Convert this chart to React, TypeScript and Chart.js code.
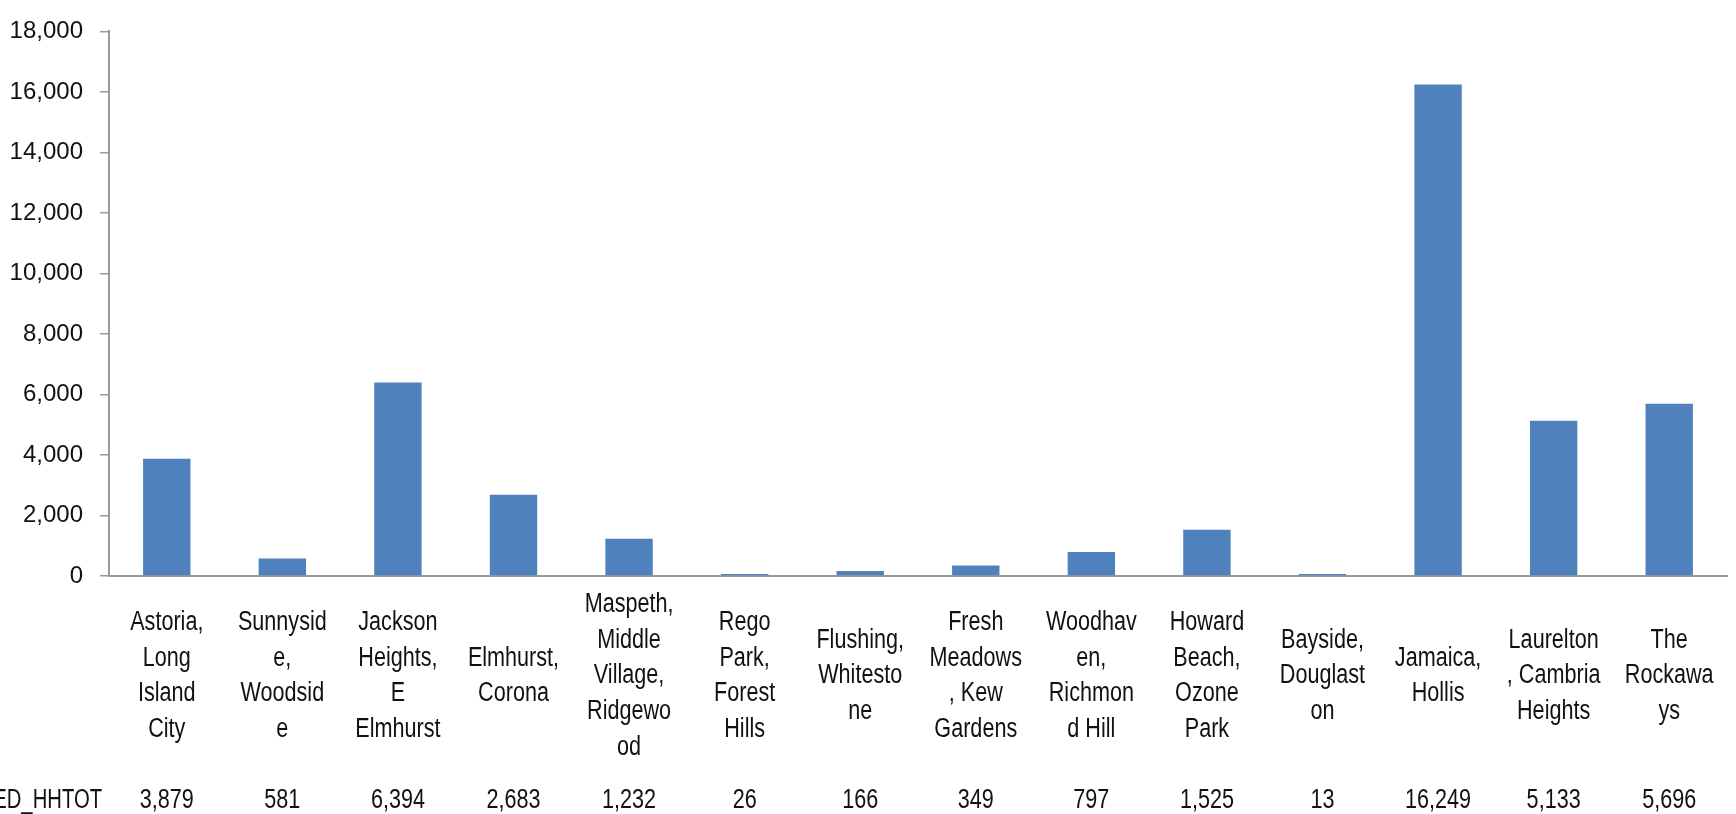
import React, { useEffect, useRef } from 'react';
import { Chart, registerables } from 'chart.js';

Chart.register(...registerables);

// Category labels, wrapped as in the reference
const categories: string[][] = [
  ['Astoria,', 'Long', 'Island', 'City'],
  ['Sunnysid', 'e,', 'Woodsid', 'e'],
  ['Jackson', 'Heights,', 'E', 'Elmhurst'],
  ['Elmhurst,', 'Corona'],
  ['Maspeth,', 'Middle', 'Village,', 'Ridgewo', 'od'],
  ['Rego', 'Park,', 'Forest', 'Hills'],
  ['Flushing,', 'Whitesto', 'ne'],
  ['Fresh', 'Meadows', ', Kew', 'Gardens'],
  ['Woodhav', 'en,', 'Richmon', 'd Hill'],
  ['Howard', 'Beach,', 'Ozone', 'Park'],
  ['Bayside,', 'Douglast', 'on'],
  ['Jamaica,', 'Hollis'],
  ['Laurelton', ', Cambria', 'Heights'],
  ['The', 'Rockawa', 'ys'],
];

const seriesName = 'ED_HHTOT';
const values: number[] = [3879, 581, 6394, 2683, 1232, 26, 166, 349, 797, 1525, 13, 16249, 5133, 5696];

const yMin = 0;
const yMax = 18000;
const yStep = 2000;

const FONT_FAMILY = "'Liberation Sans', Arial, sans-serif";
const TEXT_COLOR = '#111111';
const AXIS_COLOR = '#9a9a9a';
const BAR_COLOR = '#4F81BD';
const SQUEEZE = 0.8;

const fmt = (v: number) => v.toLocaleString('en-US');

const drawNarrow = (ctx: CanvasRenderingContext2D, text: string, x: number, y: number, k = SQUEEZE) => {
  ctx.save();
  ctx.translate(x, y);
  ctx.scale(k, 1);
  ctx.fillText(text, 0, 0);
  ctx.restore();
};

const tablePlugin = {
  id: 'categoryTable',
  afterDraw(chart: any) {
    const ctx = chart.ctx as CanvasRenderingContext2D;
    const xs = chart.scales.x;
    const top = xs.top;
    const lineH = 35.7;
    ctx.save();
    ctx.fillStyle = TEXT_COLOR;
    ctx.font = `27px ${FONT_FAMILY}`;
    ctx.textAlign = 'center';
    ctx.textBaseline = 'middle';
    const labelCenter = top + 100;
    const rowY = top + 225;
    categories.forEach((lines, i) => {
      const x = xs.getPixelForValue(i);
      const n = lines.length;
      lines.forEach((ln, j) => {
        drawNarrow(ctx, ln, x, labelCenter + (j - (n - 1) / 2) * lineH);
      });
      drawNarrow(ctx, fmt(values[i]), x, rowY);
    });
    ctx.textAlign = 'right';
    drawNarrow(ctx, seriesName, chart.chartArea.left - 7, rowY, 0.75);
    ctx.restore();
  },
};

export default function App() {
  const ref = useRef<HTMLCanvasElement | null>(null);

  useEffect(() => {
    document.body.style.margin = '0';
    const canvas = ref.current;
    if (!canvas) return;
    const chart = new Chart(canvas, {
      type: 'bar',
      data: {
        labels: categories.map((l) => l.join(' ')),
        datasets: [
          {
            label: seriesName,
            data: values,
            backgroundColor: BAR_COLOR,
            borderWidth: 0,
            barPercentage: 0.41,
            categoryPercentage: 1,
            minBarLength: 2,
          },
        ],
      },
      options: {
        responsive: false,
        animation: false,
        devicePixelRatio: 1,
        layout: { padding: { top: 17, right: 9, bottom: 0, left: 0 } },
        plugins: {
          legend: { display: false },
          tooltip: { enabled: false },
          title: { display: false },
        },
        scales: {
          x: {
            grid: { display: false, drawTicks: false },
            border: { display: true, color: AXIS_COLOR, width: 2 },
            ticks: { display: false },
            afterFit(scale: any) {
              scale.height = 238;
            },
          },
          y: {
            min: yMin,
            max: yMax,
            grid: {
              drawOnChartArea: false,
              drawTicks: true,
              tickLength: 9,
              color: AXIS_COLOR,
              lineWidth: 1.5,
            },
            border: { display: true, color: AXIS_COLOR, width: 2 },
            ticks: {
              stepSize: yStep,
              padding: 17,
              color: TEXT_COLOR,
              font: { family: FONT_FAMILY, size: 24 },
              callback: (v: any) => fmt(Number(v)),
            },
            afterFit(scale: any) {
              scale.width = 109;
            },
          },
        },
      },
      plugins: [tablePlugin],
    });
    return () => chart.destroy();
  }, []);

  return (
    <div style={{ width: 1736, height: 814, background: '#ffffff' }}>
      <canvas ref={ref} width={1736} height={814} style={{ display: 'block' }} />
    </div>
  );
}
